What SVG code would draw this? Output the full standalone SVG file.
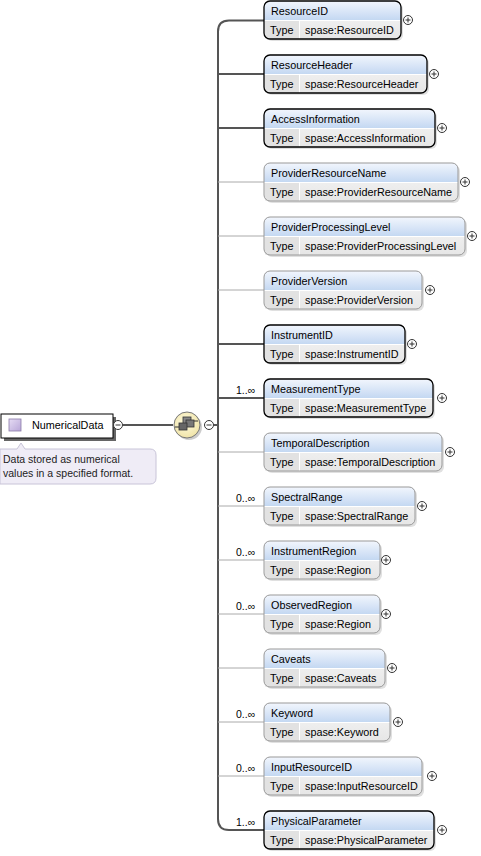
<svg xmlns="http://www.w3.org/2000/svg" width="481" height="856" viewBox="0 0 481 856">
<defs>
<linearGradient id="hdr" x1="0" y1="0" x2="0" y2="1"><stop offset="0" stop-color="#f2f6fd"/><stop offset="1" stop-color="#c4d8f2"/></linearGradient>
<linearGradient id="val" x1="0" y1="0" x2="0" y2="1"><stop offset="0" stop-color="#f8f8f8"/><stop offset="1" stop-color="#e6e6e6"/></linearGradient>
<radialGradient id="seq" cx="0.45" cy="0.4" r="0.6"><stop offset="0" stop-color="#fffbe0"/><stop offset="1" stop-color="#f0e4a8"/></radialGradient>
<linearGradient id="ico" x1="0" y1="0" x2="1" y2="1"><stop offset="0" stop-color="#e6dcf4"/><stop offset="1" stop-color="#b8a6d8"/></linearGradient>
<g id="plus"><circle r="4.5" fill="#fff" stroke="#333" stroke-width="1"/><path d="M-2.5 0H2.5M0 -2.5V2.5" stroke="#333" stroke-width="1"/></g>
<g id="minus"><circle r="4.5" fill="#fff" stroke="#333" stroke-width="1"/><path d="M-2.5 0H2.5" stroke="#333" stroke-width="1"/></g>
</defs>
<style>
text{font-family:"Liberation Sans",Arial,sans-serif;font-size:10.8px;fill:#000}
.mult{font-size:10.5px}
.ann{font-size:10.5px;fill:#222}
.shadow{fill:#000;opacity:0.12}
.req .box{stroke:#000;stroke-width:1.3}
.opt .box{stroke:#999;stroke-width:1}
.thick{stroke:#555;stroke-width:2;fill:none}
.thin{stroke:#aaa;stroke-width:1;fill:none}
</style>

<g id="connectors">
<path class="thick" d="M264 20.5H229Q218 20.5 218 31.5V819Q218 830 229 830H264"/>
<path class="thick" d="M123 425H173"/>
<path class="thick" d="M214 425H218"/>
<path class="thick" d="M218 74H264"/>
<path class="thick" d="M218 128H264"/>
<path class="thin" d="M218 182H264"/>
<path class="thin" d="M218 236H264"/>
<path class="thin" d="M218 290H264"/>
<path class="thick" d="M218 344H264"/>
<path class="thick" d="M218 398H264"/>
<path class="thin" d="M218 452H264"/>
<path class="thin" d="M218 506H264"/>
<path class="thin" d="M218 560H264"/>
<path class="thin" d="M218 614H264"/>
<path class="thin" d="M218 668H264"/>
<path class="thin" d="M218 722H264"/>
<path class="thin" d="M218 776H264"/>
</g>

<g id="NumericalData">
<rect x="4" y="417" width="112" height="24" fill="#666"/>
<rect x="1" y="414" width="112" height="24" fill="#fff" stroke="#000" stroke-width="1"/>
<rect x="9" y="419" width="12" height="12" fill="url(#ico)" stroke="#8a7aa8" stroke-width="0.8"/>
<text x="32" y="429">NumericalData</text>
<use href="#minus" x="118" y="425"/>
</g>

<g id="annotation">
<path d="M3 449H17L21 443L25 449H150Q156 449 156 455V478Q156 484 150 484H0V449Z" fill="#efecf6" stroke="#c8c4d8" stroke-width="1"/>
<text class="ann" x="3" y="463">Data stored as numerical</text>
<text class="ann" x="3" y="477">values in a specified format.</text>
</g>

<g id="sequence">
<circle cx="189" cy="427" r="13" fill="#000" opacity="0.2"/>
<circle cx="187" cy="425" r="13" fill="url(#seq)" stroke="#777" stroke-width="1"/>
<g stroke="#333" stroke-width="0.8" fill="#888">
<rect x="183" y="417" width="8" height="7"/>
<rect x="186" y="420" width="8" height="7" fill="#777"/>
<rect x="179" y="423" width="8" height="7" fill="#666"/>
</g>
<path d="M175 427H179M194 421H198" stroke="#333" stroke-width="1"/>
<use href="#minus" x="209" y="425"/>
</g>

<g id="ResourceID" class="req" transform="translate(264,1)">
<rect class="shadow" x="2" y="2" width="137" height="38" rx="6"/>
<rect x="0" y="0" width="137" height="38" rx="6" fill="url(#val)"/>
<path d="M6 0H131Q137 0 137 6V19H0V6Q0 0 6 0Z" fill="url(#hdr)"/>
<rect x="1" y="19.5" width="34" height="18" fill="#e2e2e2"/>
<line x1="0" y1="19.5" x2="137" y2="19.5" stroke="#fff"/>
<line x1="35.5" y1="19.5" x2="35.5" y2="38" stroke="#fff"/>
<rect class="box" x="0" y="0" width="137" height="38" rx="6" fill="none"/>
<text x="7" y="14">ResourceID</text><text x="6" y="33">Type</text><text x="41" y="33">spase:ResourceID</text>
<use href="#plus" x="144" y="19"/>
</g>

<g id="ResourceHeader" class="req" transform="translate(264,55)">
<rect class="shadow" x="2" y="2" width="163" height="38" rx="6"/>
<rect x="0" y="0" width="163" height="38" rx="6" fill="url(#val)"/>
<path d="M6 0H157Q163 0 163 6V19H0V6Q0 0 6 0Z" fill="url(#hdr)"/>
<rect x="1" y="19.5" width="34" height="18" fill="#e2e2e2"/>
<line x1="0" y1="19.5" x2="163" y2="19.5" stroke="#fff"/>
<line x1="35.5" y1="19.5" x2="35.5" y2="38" stroke="#fff"/>
<rect class="box" x="0" y="0" width="163" height="38" rx="6" fill="none"/>
<text x="7" y="14">ResourceHeader</text><text x="6" y="33">Type</text><text x="41" y="33">spase:ResourceHeader</text>
<use href="#plus" x="170" y="19"/>
</g>

<g id="AccessInformation" class="req" transform="translate(264,109)">
<rect class="shadow" x="2" y="2" width="171" height="38" rx="6"/>
<rect x="0" y="0" width="171" height="38" rx="6" fill="url(#val)"/>
<path d="M6 0H165Q171 0 171 6V19H0V6Q0 0 6 0Z" fill="url(#hdr)"/>
<rect x="1" y="19.5" width="34" height="18" fill="#e2e2e2"/>
<line x1="0" y1="19.5" x2="171" y2="19.5" stroke="#fff"/>
<line x1="35.5" y1="19.5" x2="35.5" y2="38" stroke="#fff"/>
<rect class="box" x="0" y="0" width="171" height="38" rx="6" fill="none"/>
<text x="7" y="14">AccessInformation</text><text x="6" y="33">Type</text><text x="41" y="33">spase:AccessInformation</text>
<use href="#plus" x="178" y="19"/>
</g>

<g id="ProviderResourceName" class="opt" transform="translate(264,163)">
<rect class="shadow" x="2" y="2" width="194" height="38" rx="6"/>
<rect x="0" y="0" width="194" height="38" rx="6" fill="url(#val)"/>
<path d="M6 0H188Q194 0 194 6V19H0V6Q0 0 6 0Z" fill="url(#hdr)"/>
<rect x="1" y="19.5" width="34" height="18" fill="#e2e2e2"/>
<line x1="0" y1="19.5" x2="194" y2="19.5" stroke="#fff"/>
<line x1="35.5" y1="19.5" x2="35.5" y2="38" stroke="#fff"/>
<rect class="box" x="0" y="0" width="194" height="38" rx="6" fill="none"/>
<text x="7" y="14">ProviderResourceName</text><text x="6" y="33">Type</text><text x="41" y="33">spase:ProviderResourceName</text>
<use href="#plus" x="201" y="19"/>
</g>

<g id="ProviderProcessingLevel" class="opt" transform="translate(264,217)">
<rect class="shadow" x="2" y="2" width="201" height="38" rx="6"/>
<rect x="0" y="0" width="201" height="38" rx="6" fill="url(#val)"/>
<path d="M6 0H195Q201 0 201 6V19H0V6Q0 0 6 0Z" fill="url(#hdr)"/>
<rect x="1" y="19.5" width="34" height="18" fill="#e2e2e2"/>
<line x1="0" y1="19.5" x2="201" y2="19.5" stroke="#fff"/>
<line x1="35.5" y1="19.5" x2="35.5" y2="38" stroke="#fff"/>
<rect class="box" x="0" y="0" width="201" height="38" rx="6" fill="none"/>
<text x="7" y="14">ProviderProcessingLevel</text><text x="6" y="33">Type</text><text x="41" y="33">spase:ProviderProcessingLevel</text>
<use href="#plus" x="208" y="19"/>
</g>

<g id="ProviderVersion" class="opt" transform="translate(264,271)">
<rect class="shadow" x="2" y="2" width="158" height="38" rx="6"/>
<rect x="0" y="0" width="158" height="38" rx="6" fill="url(#val)"/>
<path d="M6 0H152Q158 0 158 6V19H0V6Q0 0 6 0Z" fill="url(#hdr)"/>
<rect x="1" y="19.5" width="34" height="18" fill="#e2e2e2"/>
<line x1="0" y1="19.5" x2="158" y2="19.5" stroke="#fff"/>
<line x1="35.5" y1="19.5" x2="35.5" y2="38" stroke="#fff"/>
<rect class="box" x="0" y="0" width="158" height="38" rx="6" fill="none"/>
<text x="7" y="14">ProviderVersion</text><text x="6" y="33">Type</text><text x="41" y="33">spase:ProviderVersion</text>
<use href="#plus" x="166" y="19"/>
</g>

<g id="InstrumentID" class="req" transform="translate(264,325)">
<rect class="shadow" x="2" y="2" width="141" height="38" rx="6"/>
<rect x="0" y="0" width="141" height="38" rx="6" fill="url(#val)"/>
<path d="M6 0H135Q141 0 141 6V19H0V6Q0 0 6 0Z" fill="url(#hdr)"/>
<rect x="1" y="19.5" width="34" height="18" fill="#e2e2e2"/>
<line x1="0" y1="19.5" x2="141" y2="19.5" stroke="#fff"/>
<line x1="35.5" y1="19.5" x2="35.5" y2="38" stroke="#fff"/>
<rect class="box" x="0" y="0" width="141" height="38" rx="6" fill="none"/>
<text x="7" y="14">InstrumentID</text><text x="6" y="33">Type</text><text x="41" y="33">spase:InstrumentID</text>
<use href="#plus" x="148" y="19"/>
</g>

<g id="MeasurementType" class="req" transform="translate(264,379)">
<rect class="shadow" x="2" y="2" width="169" height="38" rx="6"/>
<rect x="0" y="0" width="169" height="38" rx="6" fill="url(#val)"/>
<path d="M6 0H163Q169 0 169 6V19H0V6Q0 0 6 0Z" fill="url(#hdr)"/>
<rect x="1" y="19.5" width="34" height="18" fill="#e2e2e2"/>
<line x1="0" y1="19.5" x2="169" y2="19.5" stroke="#fff"/>
<line x1="35.5" y1="19.5" x2="35.5" y2="38" stroke="#fff"/>
<rect class="box" x="0" y="0" width="169" height="38" rx="6" fill="none"/>
<text x="7" y="14">MeasurementType</text><text x="6" y="33">Type</text><text x="41" y="33">spase:MeasurementType</text>
<use href="#plus" x="178" y="19"/>
<text class="mult" x="-28" y="15">1..∞</text>
</g>

<g id="TemporalDescription" class="opt" transform="translate(264,433)">
<rect class="shadow" x="2" y="2" width="178" height="38" rx="6"/>
<rect x="0" y="0" width="178" height="38" rx="6" fill="url(#val)"/>
<path d="M6 0H172Q178 0 178 6V19H0V6Q0 0 6 0Z" fill="url(#hdr)"/>
<rect x="1" y="19.5" width="34" height="18" fill="#e2e2e2"/>
<line x1="0" y1="19.5" x2="178" y2="19.5" stroke="#fff"/>
<line x1="35.5" y1="19.5" x2="35.5" y2="38" stroke="#fff"/>
<rect class="box" x="0" y="0" width="178" height="38" rx="6" fill="none"/>
<text x="7" y="14">TemporalDescription</text><text x="6" y="33">Type</text><text x="41" y="33">spase:TemporalDescription</text>
<use href="#plus" x="186" y="19"/>
</g>

<g id="SpectralRange" class="opt" transform="translate(264,487)">
<rect class="shadow" x="2" y="2" width="151" height="38" rx="6"/>
<rect x="0" y="0" width="151" height="38" rx="6" fill="url(#val)"/>
<path d="M6 0H145Q151 0 151 6V19H0V6Q0 0 6 0Z" fill="url(#hdr)"/>
<rect x="1" y="19.5" width="34" height="18" fill="#e2e2e2"/>
<line x1="0" y1="19.5" x2="151" y2="19.5" stroke="#fff"/>
<line x1="35.5" y1="19.5" x2="35.5" y2="38" stroke="#fff"/>
<rect class="box" x="0" y="0" width="151" height="38" rx="6" fill="none"/>
<text x="7" y="14">SpectralRange</text><text x="6" y="33">Type</text><text x="41" y="33">spase:SpectralRange</text>
<use href="#plus" x="158" y="19"/>
<text class="mult" x="-28" y="15">0..∞</text>
</g>

<g id="InstrumentRegion" class="opt" transform="translate(264,541)">
<rect class="shadow" x="2" y="2" width="116" height="38" rx="6"/>
<rect x="0" y="0" width="116" height="38" rx="6" fill="url(#val)"/>
<path d="M6 0H110Q116 0 116 6V19H0V6Q0 0 6 0Z" fill="url(#hdr)"/>
<rect x="1" y="19.5" width="34" height="18" fill="#e2e2e2"/>
<line x1="0" y1="19.5" x2="116" y2="19.5" stroke="#fff"/>
<line x1="35.5" y1="19.5" x2="35.5" y2="38" stroke="#fff"/>
<rect class="box" x="0" y="0" width="116" height="38" rx="6" fill="none"/>
<text x="7" y="14">InstrumentRegion</text><text x="6" y="33">Type</text><text x="41" y="33">spase:Region</text>
<use href="#plus" x="122" y="19"/>
<text class="mult" x="-28" y="15">0..∞</text>
</g>

<g id="ObservedRegion" class="opt" transform="translate(264,595)">
<rect class="shadow" x="2" y="2" width="116" height="38" rx="6"/>
<rect x="0" y="0" width="116" height="38" rx="6" fill="url(#val)"/>
<path d="M6 0H110Q116 0 116 6V19H0V6Q0 0 6 0Z" fill="url(#hdr)"/>
<rect x="1" y="19.5" width="34" height="18" fill="#e2e2e2"/>
<line x1="0" y1="19.5" x2="116" y2="19.5" stroke="#fff"/>
<line x1="35.5" y1="19.5" x2="35.5" y2="38" stroke="#fff"/>
<rect class="box" x="0" y="0" width="116" height="38" rx="6" fill="none"/>
<text x="7" y="14">ObservedRegion</text><text x="6" y="33">Type</text><text x="41" y="33">spase:Region</text>
<use href="#plus" x="122" y="19"/>
<text class="mult" x="-28" y="15">0..∞</text>
</g>

<g id="Caveats" class="opt" transform="translate(264,649)">
<rect class="shadow" x="2" y="2" width="121" height="38" rx="6"/>
<rect x="0" y="0" width="121" height="38" rx="6" fill="url(#val)"/>
<path d="M6 0H115Q121 0 121 6V19H0V6Q0 0 6 0Z" fill="url(#hdr)"/>
<rect x="1" y="19.5" width="34" height="18" fill="#e2e2e2"/>
<line x1="0" y1="19.5" x2="121" y2="19.5" stroke="#fff"/>
<line x1="35.5" y1="19.5" x2="35.5" y2="38" stroke="#fff"/>
<rect class="box" x="0" y="0" width="121" height="38" rx="6" fill="none"/>
<text x="7" y="14">Caveats</text><text x="6" y="33">Type</text><text x="41" y="33">spase:Caveats</text>
<use href="#plus" x="128" y="19"/>
</g>

<g id="Keyword" class="opt" transform="translate(264,703)">
<rect class="shadow" x="2" y="2" width="126" height="38" rx="6"/>
<rect x="0" y="0" width="126" height="38" rx="6" fill="url(#val)"/>
<path d="M6 0H120Q126 0 126 6V19H0V6Q0 0 6 0Z" fill="url(#hdr)"/>
<rect x="1" y="19.5" width="34" height="18" fill="#e2e2e2"/>
<line x1="0" y1="19.5" x2="126" y2="19.5" stroke="#fff"/>
<line x1="35.5" y1="19.5" x2="35.5" y2="38" stroke="#fff"/>
<rect class="box" x="0" y="0" width="126" height="38" rx="6" fill="none"/>
<text x="7" y="14">Keyword</text><text x="6" y="33">Type</text><text x="41" y="33">spase:Keyword</text>
<use href="#plus" x="134" y="19"/>
<text class="mult" x="-28" y="15">0..∞</text>
</g>

<g id="InputResourceID" class="opt" transform="translate(264,757)">
<rect class="shadow" x="2" y="2" width="158" height="38" rx="6"/>
<rect x="0" y="0" width="158" height="38" rx="6" fill="url(#val)"/>
<path d="M6 0H152Q158 0 158 6V19H0V6Q0 0 6 0Z" fill="url(#hdr)"/>
<rect x="1" y="19.5" width="34" height="18" fill="#e2e2e2"/>
<line x1="0" y1="19.5" x2="158" y2="19.5" stroke="#fff"/>
<line x1="35.5" y1="19.5" x2="35.5" y2="38" stroke="#fff"/>
<rect class="box" x="0" y="0" width="158" height="38" rx="6" fill="none"/>
<text x="7" y="14">InputResourceID</text><text x="6" y="33">Type</text><text x="41" y="33">spase:InputResourceID</text>
<use href="#plus" x="168" y="19"/>
<text class="mult" x="-28" y="15">0..∞</text>
</g>

<g id="PhysicalParameter" class="req" transform="translate(264,811)">
<rect class="shadow" x="2" y="2" width="170" height="38" rx="6"/>
<rect x="0" y="0" width="170" height="38" rx="6" fill="url(#val)"/>
<path d="M6 0H164Q170 0 170 6V19H0V6Q0 0 6 0Z" fill="url(#hdr)"/>
<rect x="1" y="19.5" width="34" height="18" fill="#e2e2e2"/>
<line x1="0" y1="19.5" x2="170" y2="19.5" stroke="#fff"/>
<line x1="35.5" y1="19.5" x2="35.5" y2="38" stroke="#fff"/>
<rect class="box" x="0" y="0" width="170" height="38" rx="6" fill="none"/>
<text x="7" y="14">PhysicalParameter</text><text x="6" y="33">Type</text><text x="41" y="33">spase:PhysicalParameter</text>
<use href="#plus" x="178" y="19"/>
<text class="mult" x="-28" y="15">1..∞</text>
</g>
</svg>
